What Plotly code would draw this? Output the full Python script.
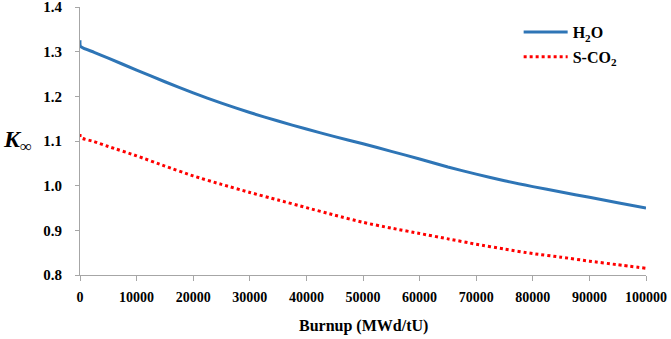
import plotly.graph_objects as go

burnup = [0, 100, 2500, 5000, 10000, 15000, 20000, 25000, 30000, 35000, 40000,
          45000, 50000, 55000, 60000, 65000, 70000, 75000, 80000, 85000, 90000,
          95000, 100000]
k_h2o = [1.326, 1.312, 1.299, 1.286, 1.259, 1.233, 1.208, 1.185, 1.164, 1.145,
         1.127, 1.110, 1.094, 1.077, 1.060, 1.042, 1.026, 1.011, 0.998, 0.986,
         0.974, 0.962, 0.950]
k_sco2 = [1.116, 1.108, 1.099, 1.088, 1.067, 1.044, 1.022, 1.003, 0.985, 0.968,
          0.951, 0.934, 0.918, 0.905, 0.893, 0.881, 0.869, 0.858, 0.848, 0.840,
          0.831, 0.823, 0.815]
x_ticks = [0, 10000, 20000, 30000, 40000, 50000, 60000, 70000, 80000, 90000, 100000]
y_ticks = [0.8, 0.9, 1.0, 1.1, 1.2, 1.3, 1.4]

FONT = "Liberation Serif, Times New Roman, serif"

fig = go.Figure()
fig.add_trace(go.Scatter(x=burnup, y=k_h2o, mode="lines", name="<b>H<sub>2</sub>O</b>",
                         line=dict(color="#2E75B6", width=3, shape="spline", smoothing=0.6),
                         legendgroup="a"))
fig.add_trace(go.Scatter(x=burnup, y=k_sco2, mode="lines", name="<b>S-CO<sub>2</sub></b>",
                         line=dict(color="#FF0000", width=3, dash="dot", shape="spline", smoothing=0.6),
                         legendgroup="b"))

fig.update_layout(
    width=671, height=339,
    margin=dict(l=80, r=25, t=7, b=64),
    paper_bgcolor="white", plot_bgcolor="white",
    font=dict(family=FONT, color="black"),
    showlegend=True,
    legend=dict(x=0.775, y=0.97, xanchor="left", yanchor="top",
                font=dict(family=FONT, size=16, color="black"),
                bgcolor="rgba(0,0,0,0)", tracegroupgap=1, itemwidth=44),
    xaxis=dict(range=[0, 100000], tickvals=x_ticks, ticktext=[str(v) for v in x_ticks],
               showgrid=False, zeroline=False, showline=True, linecolor="#A6A6A6",
               linewidth=1, ticks="outside", ticklen=5, tickcolor="#A6A6A6",
               tickfont=dict(family=FONT, size=14, color="black", weight="bold"),
               ticklabelstandoff=4, automargin=False, ticklabeloverflow="allow"),
    yaxis=dict(range=[0.8, 1.4005], tickvals=y_ticks, ticktext=[f"{v:.1f}" for v in y_ticks],
               showgrid=False, zeroline=False, showline=True, linecolor="#A6A6A6",
               linewidth=1, ticks="outside", ticklen=4, tickcolor="#A6A6A6",
               tickfont=dict(family=FONT, size=15, color="black", weight="bold"),
               ticklabelstandoff=10, automargin=False, ticklabeloverflow="allow"),
)
fig.add_annotation(text="<b>Burnup (MWd/tU)</b>", xref="paper", yref="paper",
                   x=0.5, y=-0.19, xanchor="center", yanchor="middle", showarrow=False,
                   font=dict(family=FONT, size=16, color="black"))
fig.add_annotation(text="<b><i>K</i></b><sub>∞</sub>", xref="paper", yref="paper",
                   x=-0.14, y=0.5, xanchor="left", yanchor="middle", showarrow=False,
                   font=dict(family=FONT, size=24, color="black"))

fig.write_html("out.html", config={"displayModeBar": False},
               post_script="document.body.style.margin='0';document.body.style.overflow='hidden';")
